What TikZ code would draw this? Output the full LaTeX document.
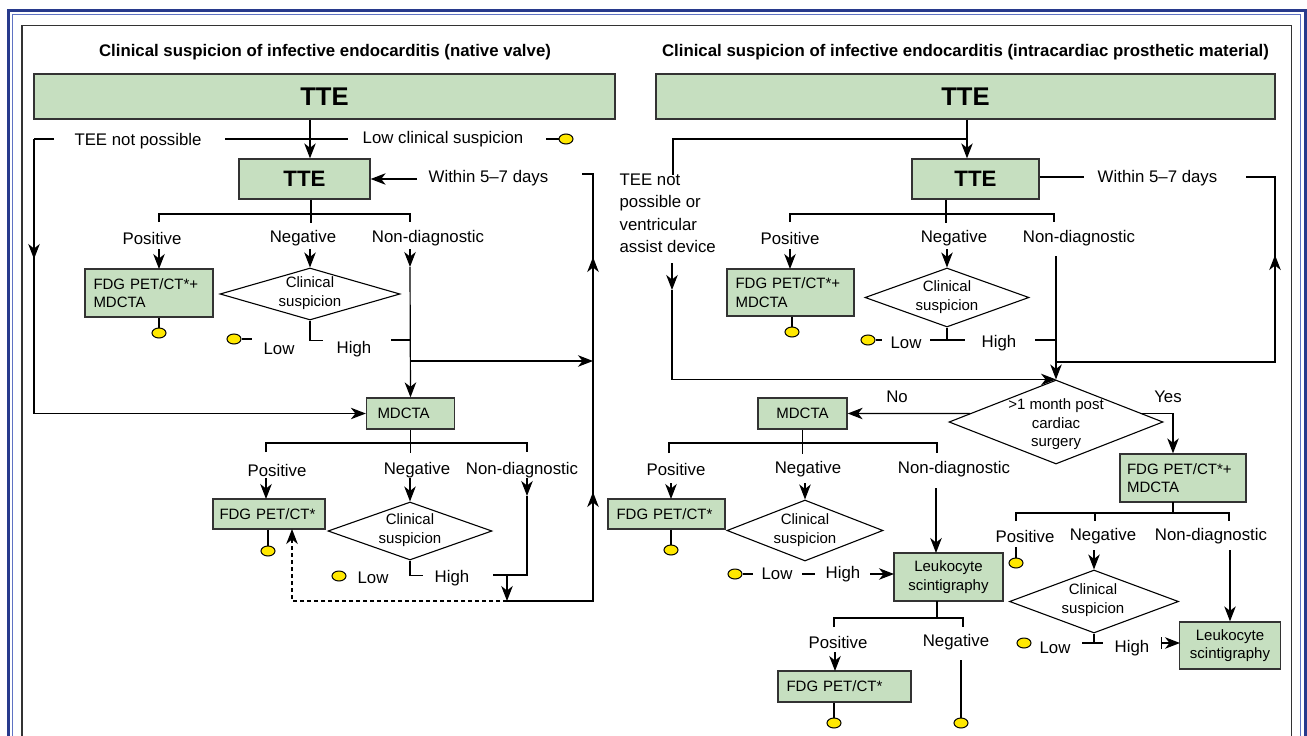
\documentclass[tikz,border=0pt]{standalone}
\usepackage{fontspec}
\setmainfont{Liberation Sans}
\usetikzlibrary{shapes.geometric,arrows.meta,calc}
\definecolor{boxgreen}{RGB}{198,223,192}
\definecolor{dotyellow}{RGB}{255,232,0}
\definecolor{frameblue}{RGB}{40,58,140}
\definecolor{thinblue}{RGB}{95,115,195}
\tikzset{
  box/.style={draw=black!80,fill=boxgreen,line width=1.3pt,inner sep=0pt,align=center,font=\fontsize{15}{18.5}\selectfont},
  lbox/.style={box,align=left,inner xsep=8.5pt},
  bigtte/.style={box,font=\bfseries\fontsize{25.6}{30}\selectfont},
  smalltte/.style={box,font=\bfseries\fontsize{22.3}{26}\selectfont},
  dia/.style={draw,diamond,line width=1.1pt,inner sep=0pt},
  dtxt/.style={inner sep=0pt,align=center,font=\fontsize{15}{19}\selectfont},
  lbl/.style={inner sep=0pt,font=\fontsize{16.8}{22.4}\selectfont},
  ttl/.style={inner sep=0pt,font=\bfseries\fontsize{16.8}{20}\selectfont},
  dot/.style={draw,fill=dotyellow,ellipse,minimum width=14pt,minimum height=10pt,inner sep=0pt,line width=1pt},
  arr/.style={-{Stealth[length=15pt,width=11.5pt,inset=4.5pt]}}
}
\begin{document}
\begin{tikzpicture}[x=1pt,y=-1pt,line width=1.2pt]
\useasboundingbox (0,0) rectangle (1307,736);
\draw[frameblue,line width=3pt] (8,736) -- (8,10) -- (1305,10) -- (1305,736);
\draw[thinblue,line width=1pt] (12.5,736) -- (12.5,14.5) -- (1300.5,14.5) -- (1300.5,736);
\draw[black!80,line width=1.3pt] (22,736) -- (22,25.5) -- (1291.5,25.5) -- (1291.5,736);

\node[ttl] (titlel) at (325,52) {Clinical suspicion of infective endocarditis (native valve)};
\node[ttl] (titler) at (965.5,52) {Clinical suspicion of infective endocarditis (intracardiac prosthetic material)};
\node[bigtte,minimum width=581pt,minimum height=45pt] (mainl) at (324.5,96.5) {TTE};
\node[bigtte,minimum width=619pt,minimum height=45pt] (mainr) at (965.5,96.5) {TTE};

\node[smalltte,minimum width=131pt,minimum height=40pt] (ttel) at (304.5,179) {TTE};
\node[lbl] (teenp) at (138,141) {TEE not possible};
\node[lbl] (lowcs) at (443,139) {Low clinical suspicion};
\node[dot] (dot1) at (566,139) {};
\node[lbl] (withinl) at (488.5,178) {Within 5–7 days};
\node[lbl] (posl1) at (152,238) {Positive};
\node[lbl] (negl1) at (303,238) {Negative};
\node[lbl] (ndl1) at (428,238) {Non-diagnostic};
\node[lbox,text width=111pt,minimum height=48pt] (fdgml) at (149,293) {FDG PET/CT*+\\MDCTA};
\node[dia,minimum width=180pt,minimum height=52pt] (cs1) at (310,294) {};
\node[dtxt] (cs1t) at (310,293) {Clinical\\suspicion};
\node[dot] (dot2) at (159,333) {};
\node[dot] (dot3) at (234,339) {};
\node[lbl] (lowl1) at (279,349) {Low};
\node[lbl] (highl1) at (354,349) {High};
\node[lbox,text width=66pt,inner xsep=11pt,minimum height=31pt] (mdctal) at (410.5,413.5) {MDCTA};
\node[lbl] (posl2) at (277,470) {Positive};
\node[lbl] (negl2) at (417,470) {Negative};
\node[lbl] (ndl2) at (522,470) {Non-diagnostic};
\node[lbox,text width=99pt,inner xsep=6.5pt,minimum height=30pt] (fdgl) at (269,514) {FDG PET/CT*};
\node[dia,minimum width=164pt,minimum height=58pt] (cs2) at (410,531) {};
\node[dtxt] (cs2t) at (410,530) {Clinical\\suspicion};
\node[dot] (dot4) at (268,551) {};
\node[dot] (dot5) at (339,576) {};
\node[lbl] (lowl2) at (373,578) {Low};
\node[lbl] (highl2) at (452,578) {High};

\draw[arr] ([xshift=-14.5pt]mainl.south) -- ([xshift=5.5pt]ttel.north);
\draw (54,139) -- (34,139);
\draw[arr] (34,139) -- (34,259);
\draw[arr] (34,250) |- (mdctal.west);
\draw (225,139) -- (348,139);
\draw (546,139) -- (dot1);
\draw[arr] (417,179) -- (ttel.east);
\draw (582,174) -- (593,174) -- (593,601) -- (507,601);
\draw[arr] (593,290) -- (593,257);
\draw[arr] (593,525) -- (593,492);
\draw ([xshift=6.5pt]ttel.south) -- ++(0,23);
\draw (159,222) -- (159,214) -- (410,214) -- (410,222);
\draw[arr] (159,249) -- (159,269);
\draw[arr] (310,249) -- (cs1.north);
\draw[arr] (410,249) -- (410,267);
\draw[arr] (410,267) -- (mdctal.north);
\draw (fdgml.south -| dot2) -- (dot2);
\draw (cs1.south) -- ++(0,20) -- ++(13,0);
\draw (dot3) -- (252,339);
\draw (391,340) -- (410,340);
\draw[arr] (410,361) -- (593,361);
\draw (mdctal.south) -- ++(0,23);
\draw (266,452) -- (266,443) -- (527,443) -- (527,452);
\draw[arr] (266,478) -- (266,499);
\draw[arr] (410,478) -- (cs2.north);
\draw[arr] (527,478) -- (527,496);
\draw (527,496) -- (527,575) -- (493,575);
\draw (cs2.south) -- ++(0,15) -- ++(13,0);
\draw[arr] (507,575) -- (507,601);
\draw[arr,dash pattern=on 4pt off 3pt] (507,601) -- (292,601) -- (292,529);
\draw (fdgl.south -| dot4) -- (dot4);

\node[smalltte,minimum width=127pt,minimum height=40pt] (tter) at (975.5,179) {TTE};
\node[lbl,align=left,anchor=west] (teenpr) at (619,213.5) {TEE not\\possible or\\ventricular\\assist device};
\node[lbl] (withinr) at (1157.5,178) {Within 5–7 days};
\node[lbl] (posr1) at (790,238) {Positive};
\node[lbl] (negr1) at (954,238) {Negative};
\node[lbl] (ndr1) at (1079,238) {Non-diagnostic};
\node[lbox,text width=110pt,minimum height=47pt] (fdgmr) at (790.5,292.5) {FDG PET/CT*+\\MDCTA};
\node[dia,minimum width=164pt,minimum height=59pt] (cs3) at (947,297.5) {};
\node[dtxt] (cs3t) at (947,297.5) {Clinical\\suspicion};
\node[dot] (dot6) at (792,332) {};
\node[dot] (dot7) at (868,340) {};
\node[lbl] (lowr1) at (906,343) {Low};
\node[lbl] (highr1) at (999,343) {High};
\node[dia,minimum width=214pt,minimum height=84pt] (month) at (1056,422) {};
\node[dtxt,font=\fontsize{15}{18.5}\selectfont] (montht) at (1056,424.5) {>1 month post\\cardiac\\surgery};
\node[lbl] (no) at (897,397) {No};
\node[lbl] (yes) at (1168,397) {Yes};
\node[box,minimum width=89pt,minimum height=31pt] (mdctar) at (802.5,413.5) {MDCTA};
\node[lbox,text width=112pt,inner xsep=7pt,minimum height=48pt] (fdgmr2) at (1183,478) {FDG PET/CT*+\\MDCTA};
\node[lbl] (posr2) at (676,469) {Positive};
\node[lbl] (negr2) at (808,469) {Negative};
\node[lbl] (ndr2) at (954,469) {Non-diagnostic};
\node[lbox,text width=100pt,minimum height=30pt] (fdgr1) at (666.5,514) {FDG PET/CT*};
\node[dia,minimum width=156pt,minimum height=61pt] (cs4) at (805,530.5) {};
\node[dtxt] (cs4t) at (805,530) {Clinical\\suspicion};
\node[dot] (dot8) at (671,550) {};
\node[dot] (dot9) at (735,574) {};
\node[lbl] (lowr2) at (777,574) {Low};
\node[lbl] (highr2) at (843,574) {High};
\node[box,minimum width=109pt,minimum height=48pt] (leukm) at (948.5,577) {Leukocyte\\scintigraphy};
\node[lbl] (posr3) at (838,642) {Positive};
\node[lbl] (negr3) at (956,642) {Negative};
\node[lbox,text width=116pt,minimum height=31pt] (fdgr2) at (844.5,686.5) {FDG PET/CT*};
\node[dot] (dot10) at (834,723) {};
\node[dot] (dot11) at (961,723) {};
\node[lbl] (posr4) at (1025,536) {Positive};
\node[lbl] (negr4) at (1103,536) {Negative};
\node[lbl] (ndr4) at (1211,536) {Non-diagnostic};
\node[dot] (dot12) at (1016,563) {};
\node[dia,minimum width=169pt,minimum height=63pt] (cs5) at (1094,601.5) {};
\node[dtxt] (cs5t) at (1093,600.5) {Clinical\\suspicion};
\node[dot] (dot13) at (1024,643) {};
\node[lbl] (lowr3) at (1055,648) {Low};
\node[lbl] (highr3) at (1132,648) {High};
\node[box,minimum width=101pt,minimum height=47pt] (leukr) at (1230,645.5) {Leukocyte\\scintigraphy};

\draw[arr] ([xshift=1.5pt]mainr.south) -- ([xshift=-8.5pt]tter.north);
\draw (967,139) -- (673,139) -- (673,175);
\draw[arr] (672,263) -- (672,290);
\draw[arr] (672,290) |- (month.north);
\draw ([yshift=2pt]tter.east) -- (1084,177);
\draw (1246,177) -- (1275,177) -- (1275,362) -- (1056,362);
\draw[arr] (1275,290) -- (1275,255);
\draw ([xshift=-29.5pt]tter.south) -- ++(0,23);
\draw (790,222) -- (790,214) -- (1054,214) -- (1054,222);
\draw[arr] (790,249) -- (790,269);
\draw[arr] (947,249) -- (cs3.north);
\draw[arr] (1056,256) -- (month.north);
\draw (fdgmr.south -| dot6) -- (dot6);
\draw (cs3.south) -- ++(0,13);
\draw (930,340) -- (965,340);
\draw (1035,340) -- (1056,340);
\draw (dot7) -- (882,340);
\draw[arr] ($(month.west)!.2!(month.north)$) -- (mdctar.east);
\draw[arr] ($(month.east)!.2!(month.north)$) -| ([xshift=-10pt]fdgmr2.north);
\draw (mdctar.south) -- ++(0,24);
\draw (669,453) -- (669,443) -- (937,443) -- (937,453);
\draw[arr] (671,483) -- (671,499);
\draw[arr] (805,483) -- (cs4.north);
\draw[arr] (936,488) -- (936,553);
\draw (fdgr1.south -| dot8) -- (dot8);
\draw (dot9) -- (753,574);
\draw (802,574) -- (815,574);
\draw[arr] (870,574) -- (894,574);
\draw (937,601) -- (937,618);
\draw (834,627) -- (834,618) -- (963,618) -- (963,627);
\draw[arr] (835,652) -- (835,671);
\draw (961,660) -- (dot11);
\draw (fdgr2.south -| dot10) -- (dot10);
\draw (1173,502) -- (1173,513);
\draw (1016,521) -- (1016,513) -- (1229,513) -- (1229,521);
\draw (1095,513) -- (1095,521);
\draw (1016,547) -- (dot12);
\draw[arr] (1094,550) -- (cs5.north);
\draw[arr] (1230,550) -- (leukr.north);
\draw (cs5.south) -- ++(0,10);
\draw (1082,643) -- (1103,643);
\draw[{Bar[width=12pt]}-{Stealth[length=15pt,width=11.5pt,inset=4.5pt]}] (1161,643) -- (1180,643);
\end{tikzpicture}
\end{document}
